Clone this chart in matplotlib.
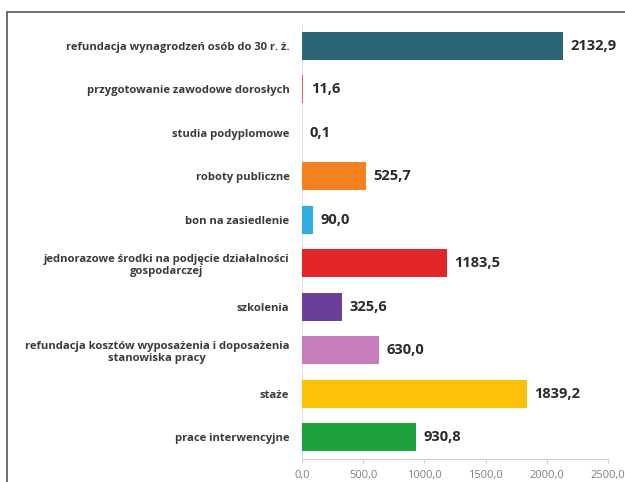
import matplotlib.pyplot as plt
from matplotlib.patches import Rectangle

categories = [
    "refundacja wynagrodzeń osób do 30 r. ż.",
    "przygotowanie zawodowe dorosłych",
    "studia podyplomowe",
    "roboty publiczne",
    "bon na zasiedlenie",
    "jednorazowe środki na podjęcie działalności\ngospodarczej",
    "szkolenia",
    "refundacja kosztów wyposażenia i doposażenia\nstanowiska pracy",
    "staże",
    "prace interwencyjne",
]
values = [2132.9, 11.6, 0.1, 525.7, 90.0, 1183.5, 325.6, 630.0, 1839.2, 930.8]
colors = ["#2b6477", "#e0685a", "#5bc0e8", "#f28222", "#2eaee3",
          "#e3262a", "#6b3e9a", "#c57dbb", "#fdc10a", "#1ea23d"]
ticks = [0, 500, 1000, 1500, 2000, 2500]

plt.rcParams['font.family'] = ['Open Sans', 'DejaVu Sans']

fig = plt.figure(figsize=(6.25, 4.82), dpi=100)
ax = fig.add_axes([0.483, 0.048, 0.49, 0.902])

ypos = list(range(len(values)))
ax.barh(ypos, values, height=0.65, color=colors, zorder=3)
for y, v in zip(ypos, values):
    ax.text(v + 60, y, f"{v:.1f}".replace(".", ","), va="center", ha="left",
            fontsize=10.5, fontweight="bold", color="#2a2a2a")

ax.set_ylim(len(values) - 0.5, -0.5)
ax.set_xlim(0, 2500)
ax.set_yticks(ypos)
ax.set_yticklabels(categories, fontsize=8.1, fontweight="bold", color="#3a3a3a",
                   multialignment="center")
ax.set_xticks(ticks)
ax.set_xticklabels([f"{t:.1f}".replace(".", ",") for t in ticks], fontsize=8, color="#808080")
ax.tick_params(axis="y", length=0, pad=9)
ax.tick_params(axis="x", length=3, color="#d0d0d0", pad=5)

for s in ["top", "right"]:
    ax.spines[s].set_visible(False)
ax.spines["left"].set_color("#e4e4e4")
ax.spines["left"].set_zorder(1)
ax.spines["bottom"].set_color("#d0d0d0")

# outer frame (cut off at right and bottom)
fig.patches.append(Rectangle((7 / 625, -0.1), 1.2, 1 - 12 / 482 + 0.1,
                             transform=fig.transFigure, fill=False,
                             edgecolor="#555555", linewidth=1.2))

fig.savefig("out.png", dpi=100)
